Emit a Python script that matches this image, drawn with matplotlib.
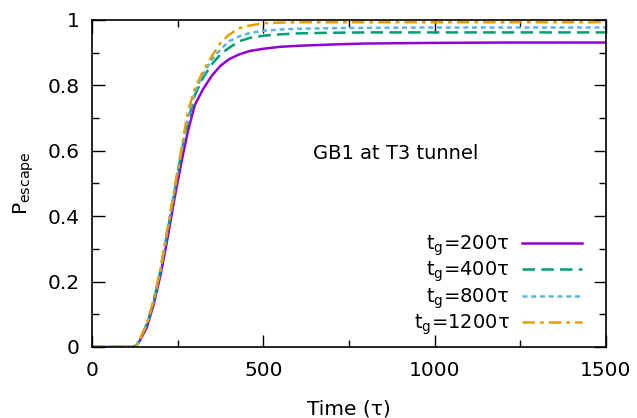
import matplotlib
matplotlib.use("Agg")
import matplotlib.pyplot as plt
from matplotlib.ticker import MultipleLocator

# escape probability vs. time for several gate times
time = [0, 120, 130, 140, 160, 180, 200, 220, 240, 260, 280, 300, 325, 350,
        375, 400, 430, 460, 500, 550, 600, 700, 800, 1000, 1200, 1500]
p_200 = [0, 0, 0.005, 0.02, 0.06, 0.13, 0.22, 0.33, 0.45, 0.56, 0.66, 0.74,
         0.79, 0.83, 0.86, 0.88, 0.895, 0.905, 0.912, 0.918, 0.921, 0.925,
         0.928, 0.930, 0.931, 0.931]
p_400 = [0, 0, 0.005, 0.022, 0.07, 0.14, 0.235, 0.35, 0.47, 0.59, 0.69, 0.77,
         0.825, 0.865, 0.895, 0.915, 0.935, 0.945, 0.952, 0.956, 0.959, 0.961,
         0.962, 0.962, 0.962, 0.962]
p_800 = [0, 0, 0.005, 0.022, 0.07, 0.14, 0.235, 0.355, 0.475, 0.595, 0.70,
         0.78, 0.835, 0.88, 0.91, 0.935, 0.95, 0.96, 0.967, 0.971, 0.973,
         0.975, 0.976, 0.977, 0.977, 0.977]
p_1200 = [0, 0, 0.005, 0.025, 0.07, 0.145, 0.24, 0.36, 0.48, 0.60, 0.72, 0.79,
          0.845, 0.89, 0.93, 0.955, 0.975, 0.983, 0.990, 0.992, 0.993, 0.993,
          0.993, 0.993, 0.993, 0.993]

labels = [r"$\mathregular{t_g}$=200τ", r"$\mathregular{t_g}$=400τ",
          r"$\mathregular{t_g}$=800τ", r"$\mathregular{t_g}$=1200τ"]
series = [p_200, p_400, p_800, p_1200]
colors = ["#9400d3", "#009e73", "#56b4e9", "#e69f00"]
dashes = [None, (5, 2.5), (2, 1.5), (5, 2, 1.5, 2)]

plt.rcParams["font.family"] = ["DejaVu Sans"]
plt.rcParams["mathtext.fontset"] = "dejavusans"

fig = plt.figure(figsize=(6.37, 4.18), dpi=100)
ax = fig.add_axes([0.1444, 0.1699, 0.8069, 0.7823])

for y, lab, c, d in zip(series, labels, colors, dashes):
    line, = ax.plot(time, y, color=c, lw=1.8, label=lab)
    if d is not None:
        line.set_dashes(d)

ax.set_xlim(0, 1500)
ax.set_ylim(0, 1)
ax.xaxis.set_major_locator(MultipleLocator(500))
ax.xaxis.set_minor_locator(MultipleLocator(250))
ax.yaxis.set_minor_locator(MultipleLocator(0.1))
ax.set_yticks([0, 0.2, 0.4, 0.6, 0.8, 1.0])
ax.set_yticklabels(["0", "0.2", "0.4", "0.6", "0.8", "1"])
ax.tick_params(which="both", direction="in", top=True, right=True,
               labelsize=14.5, width=1)
ax.tick_params(which="major", length=9)
ax.tick_params(axis="x", which="major", pad=10)
ax.tick_params(axis="y", which="major", pad=9)
ax.tick_params(which="minor", length=5)
for s in ax.spines.values():
    s.set_linewidth(1.2)

ax.set_xlabel("Time (τ)", fontsize=14.5, labelpad=14)
ax.set_ylabel(r"$\mathregular{P_{escape}}$", fontsize=14.5, labelpad=8)

ax.text(645, 0.593, "GB1 at T3 tunnel", fontsize=14, va="center", ha="left")

ax.legend(loc="lower right", bbox_to_anchor=(0.953, 0.03), frameon=False,
          markerfirst=False, fontsize=14, handlelength=3.1,
          handletextpad=0.6, labelspacing=0.1, borderpad=0, borderaxespad=0)

fig.savefig("out.png", dpi=100)
